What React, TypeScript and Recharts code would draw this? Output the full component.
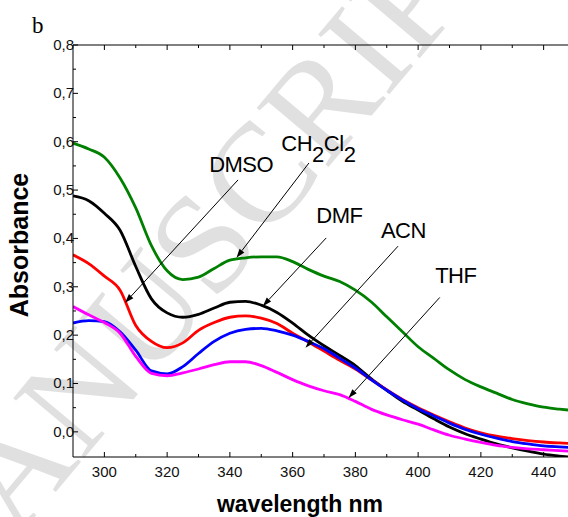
import React from 'react';
import { LineChart, Line, XAxis, YAxis, ReferenceLine, ReferenceDot } from 'recharts';

// wavelength (nm)
const wavelengths = [
  290, 295, 300, 305, 310, 315, 320, 325, 330, 335, 340, 345, 350, 355, 360, 365, 370,
  375, 380, 385, 390, 395, 400, 405, 410, 415, 420, 425, 430, 435, 440, 445, 448,
];

// absorbance per solvent
const ch2cl2 = [
  0.597, 0.585, 0.568, 0.525, 0.463, 0.385, 0.333, 0.315, 0.32, 0.338, 0.355, 0.36, 0.362,
  0.362, 0.352, 0.336, 0.322, 0.311, 0.293, 0.269, 0.238, 0.207, 0.176, 0.152, 0.128, 0.108,
  0.093, 0.08, 0.067, 0.058, 0.051, 0.047, 0.045,
];
const dmf = [
  0.488, 0.478, 0.452, 0.417, 0.342, 0.275, 0.246, 0.237, 0.243, 0.256, 0.268, 0.27, 0.262,
  0.247, 0.225, 0.2, 0.178, 0.158, 0.137, 0.11, 0.086, 0.063, 0.045, 0.027, 0.01, -0.004,
  -0.015, -0.025, -0.033, -0.04, -0.046, -0.05, -0.052,
];
const dmso = [
  0.366, 0.348, 0.322, 0.293, 0.22, 0.187, 0.174, 0.184, 0.21, 0.226, 0.237, 0.24, 0.235,
  0.224, 0.204, 0.186, 0.167, 0.148, 0.13, 0.108, 0.087, 0.067, 0.05, 0.035, 0.021, 0.008,
  -0.002, -0.009, -0.014, -0.018, -0.021, -0.023, -0.024,
];
const acn = [
  0.225, 0.23, 0.228, 0.207, 0.169, 0.126, 0.12, 0.135, 0.162, 0.187, 0.204, 0.212, 0.214,
  0.209, 0.2, 0.187, 0.172, 0.152, 0.132, 0.108, 0.086, 0.066, 0.048, 0.033, 0.018, 0.005,
  -0.005, -0.013, -0.02, -0.025, -0.029, -0.031, -0.032,
];
const thf = [
  0.259, 0.242, 0.226, 0.204, 0.156, 0.121, 0.116, 0.122, 0.13, 0.139, 0.145, 0.145, 0.137,
  0.123, 0.108, 0.095, 0.085, 0.077, 0.063, 0.047, 0.035, 0.025, 0.016, 0.004, -0.007, -0.015,
  -0.022, -0.028, -0.032, -0.035, -0.037, -0.039, -0.04,
];

const xTicks = [300, 310, 320, 330, 340, 350, 360, 370, 380, 390, 400, 410, 420, 430, 440];
const yTicks = [
  0, 0.05, 0.1, 0.15, 0.2, 0.25, 0.3, 0.35, 0.4, 0.45, 0.5, 0.55, 0.6, 0.65, 0.7, 0.75, 0.8,
];

const series = [
  { key: 'ch2cl2', color: '#008000', values: ch2cl2 },
  { key: 'dmf', color: '#000000', values: dmf },
  { key: 'dmso', color: '#ff0000', values: dmso },
  { key: 'acn', color: '#0000ff', values: acn },
  { key: 'thf', color: '#ff00ff', values: thf },
];

// arrow from label to curve, in data units
const arrows = [
  { name: 'DMSO', from: [342.6, 0.521], to: [306.6, 0.267], label: [343.6, 0.537], anchor: 'middle' },
  { name: 'CH2Cl2', from: [365.2, 0.556], to: [342.1, 0.36], label: [356.4, 0.581], anchor: 'start' },
  { name: 'DMF', from: [370.7, 0.401], to: [350.5, 0.26], label: [374.9, 0.432], anchor: 'middle' },
  { name: 'ACN', from: [393.6, 0.384], to: [364.1, 0.174], label: [395.3, 0.401], anchor: 'middle' },
  { name: 'THF', from: [406.9, 0.278], to: [377.8, 0.07], label: [412.0, 0.308], anchor: 'middle' },
];

const data = wavelengths.map((wl, i) => {
  const row: any = { wl };
  series.forEach((s) => (row[s.key] = s.values[i]));
  return row;
});

const font = '"Liberation Sans", Arial, sans-serif';

const BottomTick = (props: any) => {
  const { x, y, payload } = props;
  const major = payload.value % 20 === 0;
  return (
    <g>
      <line x1={x} x2={x} y1={y} y2={y - (major ? 5 : 3)} stroke="#000" />
      {major && (
        <text x={x} y={y + 20} textAnchor="middle" fontSize={15} fontFamily={font} fill="#111">
          {payload.value}
        </text>
      )}
    </g>
  );
};

const TopTick = (props: any) => {
  const { x, y, payload } = props;
  const major = payload.value % 20 === 0;
  return <line x1={x} x2={x} y1={y} y2={y + (major ? 5 : 3)} stroke="#000" />;
};

const LeftTick = (props: any) => {
  const { x, y, payload } = props;
  const v = payload.value;
  const major = Math.round(v * 100) % 10 === 0;
  return (
    <g>
      <line x1={x} x2={x + (major ? 5 : 3)} y1={y} y2={y} stroke="#000" />
      {major && (
        <text x={x + 1} y={y + 5} textAnchor="end" fontSize={15} fontFamily={font} fill="#111">
          {v.toFixed(1).replace('.', ',')}
        </text>
      )}
    </g>
  );
};

const Arrow = (p: any) => {
  const { x1, y1, x2, y2 } = p;
  const dx = x2 - x1;
  const dy = y2 - y1;
  const len = Math.hypot(dx, dy) || 1;
  const ux = dx / len;
  const uy = dy / len;
  const bx = x2 - ux * 9;
  const by = y2 - uy * 9;
  const pts = `${x2},${y2} ${bx - uy * 3},${by + ux * 3} ${bx + uy * 3},${by - ux * 3}`;
  return (
    <g>
      <line x1={x1} y1={y1} x2={bx} y2={by} stroke="#000" strokeWidth={1} />
      <polygon points={pts} fill="#000" />
    </g>
  );
};

// digits in a formula are drawn as subscripts
const SolventLabel = ({ cx, cy, name, anchor }: any) => {
  const parts = name.split(/(\d)/).filter((s: string) => s !== '');
  let shifted = false;
  return (
    <text x={cx} y={cy} textAnchor={anchor} fontSize={22} fontFamily={font} fill="#000" letterSpacing={-0.5}>
      {parts.map((s: string, i: number) => {
        const sub = /\d/.test(s);
        const dy = sub && !shifted ? 11 : !sub && shifted ? -11 : 0;
        shifted = sub;
        return (
          <tspan key={i} dy={dy}>
            {s}
          </tspan>
        );
      })}
    </text>
  );
};

export default function App() {
  return (
    <div
      style={{
        position: 'absolute',
        left: 0,
        top: 0,
        width: 568,
        height: 517,
        overflow: 'hidden',
        background: '#fff',
      }}
    >
      <svg width={568} height={517} style={{ position: 'absolute', left: 0, top: 0 }}>
        <text
          x={523}
          y={-65}
          textAnchor="end"
          fontSize={142}
          fontFamily='"Liberation Serif", "Times New Roman", serif'
          fill="#e0e0e0"
          transform="rotate(-50 523 -65)"
        >
          ACCEPTED MANUSCRIPT
        </text>
        <text x={32} y={33} fontSize={23} fontFamily='"Liberation Serif", "Times New Roman", serif'>
          b
        </text>
        <text x={300} y={512} textAnchor="middle" fontSize={23} fontWeight="bold" fontFamily={font}>
          wavelength nm
        </text>
        <text
          x={28}
          y={245}
          textAnchor="middle"
          fontSize={25}
          fontWeight="bold"
          fontFamily={font}
          transform="rotate(-90 28 245)"
        >
          Absorbance
        </text>
      </svg>
      <div style={{ position: 'absolute', left: 0, top: 0 }}>
        <LineChart width={575} height={517} data={data} margin={{ top: 44, right: 0, bottom: 59, left: 72 }}>
          <XAxis
            dataKey="wl"
            type="number"
            domain={[290, 450]}
            ticks={xTicks}
            interval={0}
            height={1}
            tickSize={0}
            tickMargin={0}
            tickLine={false}
            tick={<BottomTick />}
            axisLine={{ stroke: '#000' }}
            allowDataOverflow
          />
          <XAxis
            xAxisId="top"
            orientation="top"
            dataKey="wl"
            type="number"
            domain={[290, 450]}
            ticks={xTicks}
            interval={0}
            height={1}
            tickSize={0}
            tickMargin={0}
            tickLine={false}
            tick={<TopTick />}
            axisLine={{ stroke: '#000' }}
            allowDataOverflow
          />
          <YAxis
            type="number"
            domain={[-0.052, 0.8]}
            ticks={yTicks}
            interval={0}
            width={1}
            tickSize={0}
            tickMargin={0}
            tickLine={false}
            tick={<LeftTick />}
            axisLine={{ stroke: '#000' }}
            allowDataOverflow
          />
          {series.map((s) => (
            <Line
              key={s.key}
              dataKey={s.key}
              type="monotone"
              stroke={s.color}
              strokeWidth={2.8}
              dot={false}
              isAnimationActive={false}
            />
          ))}
          {arrows.map((a) => (
            <ReferenceLine
              key={`arrow-${a.name}`}
              segment={[
                { x: a.from[0], y: a.from[1] },
                { x: a.to[0], y: a.to[1] },
              ]}
              ifOverflow="visible"
              shape={(p: any) => <Arrow {...p} />}
            />
          ))}
          {arrows.map((a) => (
            <ReferenceDot
              key={`label-${a.name}`}
              x={a.label[0]}
              y={a.label[1]}
              r={0}
              ifOverflow="visible"
              shape={(p: any) => <SolventLabel cx={p.cx} cy={p.cy} name={a.name} anchor={a.anchor} />}
            />
          ))}
        </LineChart>
      </div>
    </div>
  );
}
